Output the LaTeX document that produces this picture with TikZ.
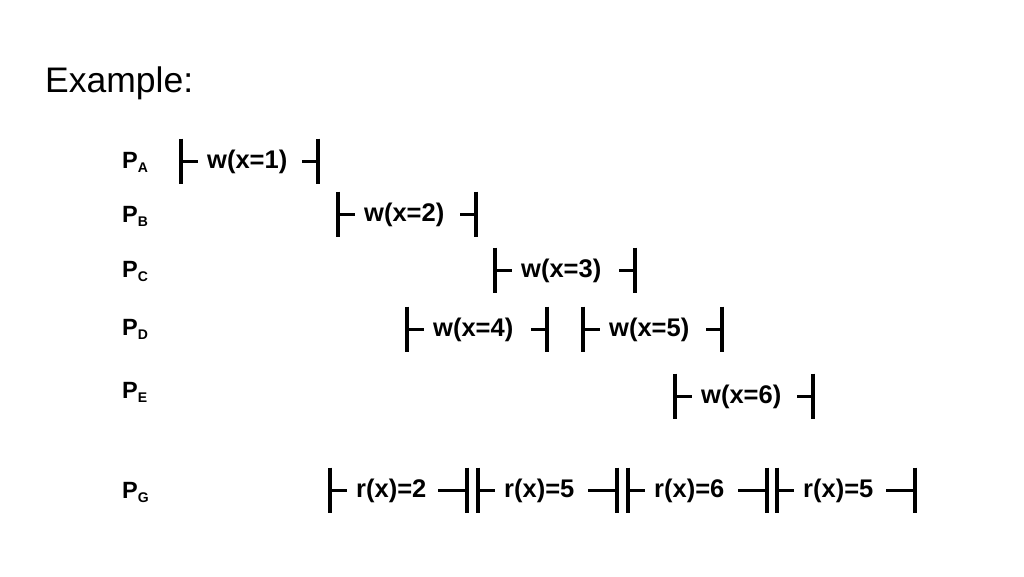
\documentclass[tikz,border=0pt]{standalone}
\usepackage{fontspec}
\setmainfont{Liberation Sans}
\tikzset{
  barline/.style={line width=4pt},
  tickline/.style={line width=3pt},
  lab/.style={font=\fontsize{25.5}{25.5}\selectfont\bfseries, inner sep=0pt, anchor=west},
  proc/.style={font=\fontsize{23.5}{23.5}\selectfont\bfseries, inner sep=0pt, anchor=base west},
}
% #1 name, #2 left x, #3 right x, #4 y, #5 label, #6 right tick length
\newcommand\ivspan[6]{%
  \draw[barline] (#2,#4-22.5) -- (#2,#4+22.5);
  \draw[tickline] (#2,#4) -- (#2+17,#4);
  \node[lab] (#1) at (#2+26,#4+1) {#5};
  \draw[tickline] (#3-#6,#4) -- (#3,#4);
  \draw[barline] (#3,#4-22.5) -- (#3,#4+22.5);
}
\newcommand\plabel[3]{%
  \node[proc] (#1) at (122,#3) {P\raisebox{-4pt}{\fontsize{14}{14}\selectfont\bfseries #2}};
}
\begin{document}
\begin{tikzpicture}[x=1pt,y=-1pt]
\useasboundingbox (0,0) rectangle (1024,576);
\node[font=\fontsize{35.5}{35.5}\selectfont, inner sep=0pt, anchor=west] (title) at (45,83) {Example:};

\plabel{pa}{A}{168}
\plabel{pb}{B}{222}
\plabel{pc}{C}{277}
\plabel{pd}{D}{335}
\plabel{pe}{E}{398}
\plabel{pg}{G}{498}

\ivspan{w1}{181}{318}{161}{w(x=1)}{16}
\ivspan{w2}{338}{476}{214}{w(x=2)}{16}
\ivspan{w3}{495}{635}{270}{w(x=3)}{16}
\ivspan{w4}{407}{547}{329}{w(x=4)}{16}
\ivspan{w5}{583}{722}{329}{w(x=5)}{16}
\ivspan{w6}{675}{813}{396}{w(x=6)}{16}

\ivspan{r1}{330}{467}{490}{r(x)=2}{29}
\ivspan{r2}{478}{617}{490}{r(x)=5}{29}
\ivspan{r3}{628}{767}{490}{r(x)=6}{29}
\ivspan{r4}{777}{915}{490}{r(x)=5}{29}
\end{tikzpicture}
\end{document}
